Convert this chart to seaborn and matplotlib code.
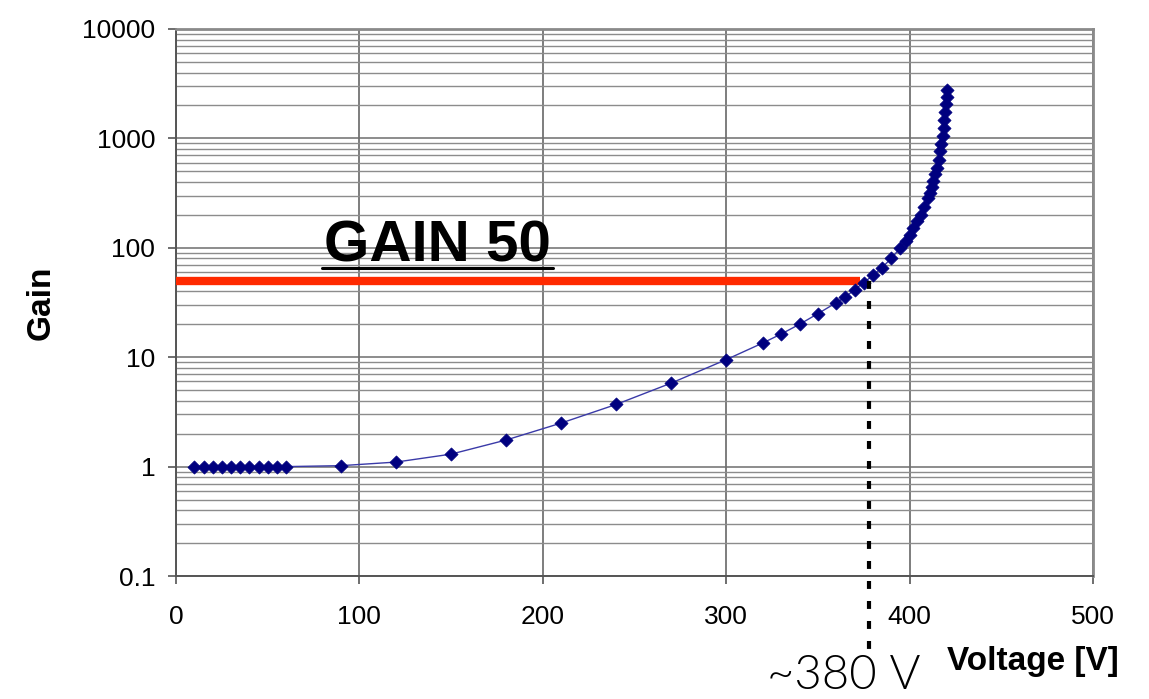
import numpy as np
import pandas as pd
import seaborn as sns
import matplotlib
matplotlib.use("Agg")
import matplotlib.pyplot as plt
from matplotlib.lines import Line2D
from matplotlib.ticker import FixedLocator, NullFormatter, FixedFormatter

# ---------------- data ----------------
voltage = [10, 15, 20, 25, 30, 35, 40, 45, 50, 55, 60,
           90, 120, 150, 180, 210, 240, 270, 300, 320, 330, 340, 350,
           360, 365, 370, 375, 380, 385, 390, 395, 398, 400, 402, 404,
           406, 408, 410, 411, 412, 413, 414, 415, 416, 416.5, 417,
           418, 418.5, 419, 419.5, 420, 420.3, 420.6]
gain = [1.0, 1.0, 1.0, 1.0, 1.0, 1.0, 1.0, 1.0, 1.0, 1.0, 1.0,
        1.02, 1.1, 1.3, 1.75, 2.5, 3.7, 5.8, 9.5, 13.5, 16.3, 20, 25,
        31.5, 35.5, 41.5, 48, 56, 66, 80, 100, 115, 132, 152, 175,
        200, 235, 285, 320, 360, 410, 470, 540, 640, 760, 880,
        1050, 1250, 1480, 1750, 2050, 2400, 2750]

x_ticks = [0, 100, 200, 300, 400, 500]
y_ticks = [0.1, 1, 10, 100, 1000, 10000]
y_tick_labels = ["0.1", "1", "10", "100", "1000", "10000"]

target_gain = 50
target_line_end = 373
target_voltage = 378
annot_text = "GAIN 50"
voltage_text = "~380 V"

df = pd.DataFrame({"Voltage [V]": voltage, "Gain": gain})

# ---------------- style ----------------
sns.set_style("white")
plt.rcParams["font.family"] = ["Liberation Sans", "DejaVu Sans"]
plt.rcParams["text.color"] = "black"
plt.rcParams["axes.labelcolor"] = "black"
plt.rcParams["xtick.labelcolor"] = "black"
plt.rcParams["ytick.labelcolor"] = "black"

W, H = 1149, 699
fig = plt.figure(figsize=(W / 100, H / 100), dpi=100)
ax = fig.add_axes([176 / W, 1 - 576 / H, (1093 - 176) / W, (576 - 29) / H])

ax.set_yscale("log")
ax.set_xlim(0, 500)
ax.set_ylim(0.1, 10000)

# grid
minor_vals = [m * 10.0 ** e for e in range(-1, 4) for m in range(2, 10)]
ax.yaxis.set_major_locator(FixedLocator(y_ticks))
ax.yaxis.set_major_formatter(FixedFormatter(y_tick_labels))
ax.yaxis.set_minor_locator(FixedLocator(minor_vals))
ax.yaxis.set_minor_formatter(NullFormatter())
ax.set_xticks(x_ticks)
ax.grid(True, which="major", axis="y", color="#6e6e6e", lw=1.1)
ax.grid(True, which="minor", axis="y", color="#8c8c8c", lw=1.0)
ax.grid(True, which="major", axis="x", color="#5a5a5a", lw=1.1)
ax.set_axisbelow(True)

for side in ["left", "bottom"]:
    ax.spines[side].set_color("#555555")
    ax.spines[side].set_linewidth(1.4)
for side in ["top", "right"]:
    ax.spines[side].set_color("#8a8a8a")
    ax.spines[side].set_linewidth(2.0)

ax.tick_params(axis="y", which="major", direction="out", length=6, width=1.2,
               color="#555555", labelcolor="black", labelsize=19, pad=9, left=True)
ax.tick_params(axis="y", which="minor", length=0)
ax.tick_params(axis="x", which="major", direction="out", length=6, width=1.2,
               color="#555555", labelcolor="black", labelsize=19, pad=15, bottom=True)

# target line
ax.hlines(target_gain, 0, target_line_end, color="#ff2a00", lw=6.0, zorder=3)

# curve
sns.lineplot(data=df, x="Voltage [V]", y="Gain", ax=ax, color="#3a3aa8",
             lw=1.0, zorder=4, sort=False)
sns.scatterplot(data=df, x="Voltage [V]", y="Gain", ax=ax, marker="D",
                color="#00007f", s=45, edgecolor="#00007f", linewidth=0.5,
                zorder=5)

# dashed vertical line
ax.plot([target_voltage, target_voltage], [target_gain, 0.019],
        color="black", lw=3.0, dashes=(1.9, 2.9), clip_on=False, zorder=6)

# labels
ax.set_xlabel("Voltage [V]", fontsize=24, fontweight="bold", color="black")
ax.xaxis.set_label_coords((1033 - 176) / 917, (576 - 646) / 547)
ax.set_ylabel("Gain", fontsize=24, fontweight="bold", color="black")
ax.yaxis.set_label_coords((57 - 176) / 917, 0.5)

t = ax.text(80.5, 75, annot_text, fontsize=42, fontweight="bold",
            color="black", ha="left", va="baseline", zorder=7)

fig.text(767 / W, 2 / H, voltage_text, fontsize=34,
         family=["Lato", "Roboto", "Liberation Sans", "DejaVu Sans"],
         fontweight=300, color="black", ha="left", va="bottom")

# underline for the annotation
fig.canvas.draw()
bb = t.get_window_extent()
uy = 699 - 268
fig.add_artist(Line2D([bb.x0 - 2, bb.x1 + 2], [uy, uy], transform=None,
                      color="black", lw=2.2))

fig.savefig("out.png", dpi=100)
